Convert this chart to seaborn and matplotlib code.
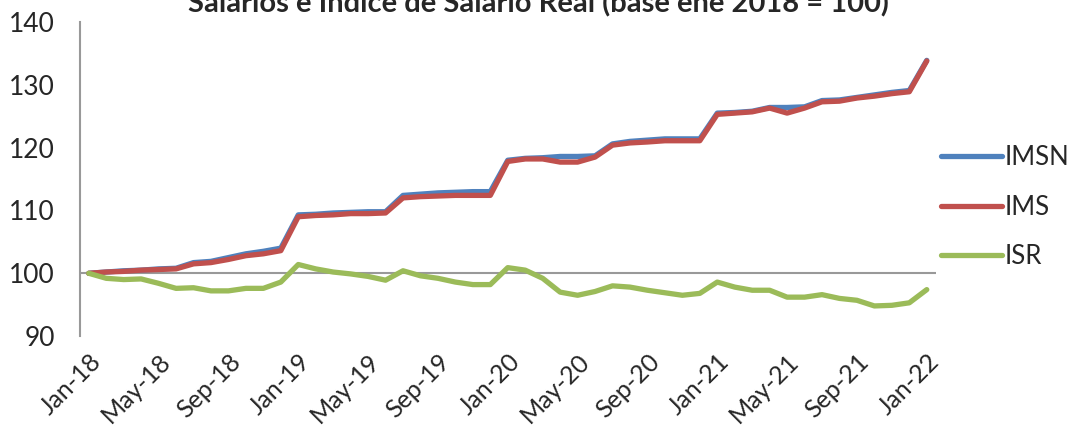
import matplotlib
matplotlib.use("Agg")
import matplotlib.pyplot as plt
import seaborn as sns
import pandas as pd
import numpy as np

months = pd.date_range("2018-01-01", "2022-01-01", freq="MS")
month_labels = [d.strftime("%b-%y") for d in months]

imsn = [100.0, 100.2, 100.4, 100.5, 100.7, 100.8, 101.7, 101.9, 102.5, 103.1, 103.5, 104.0,
        109.3, 109.4, 109.6, 109.7, 109.8, 109.8, 112.4, 112.6, 112.8, 112.9, 113.0, 113.0,
        118.0, 118.3, 118.4, 118.6, 118.6, 118.7, 120.6, 121.0, 121.2, 121.4, 121.4, 121.4,
        125.5, 125.6, 125.8, 126.4, 126.4, 126.5, 127.5, 127.6, 128.0, 128.4, 128.8, 129.1,
        133.9]
ims = [100.0, 100.2, 100.3, 100.5, 100.6, 100.7, 101.5, 101.7, 102.2, 102.8, 103.1, 103.6,
       109.0, 109.2, 109.3, 109.5, 109.5, 109.6, 112.0, 112.2, 112.3, 112.4, 112.4, 112.4,
       117.8, 118.2, 118.2, 117.7, 117.7, 118.5, 120.4, 120.75, 120.9, 121.1, 121.1, 121.1,
       125.3, 125.5, 125.7, 126.3, 125.5, 126.3, 127.3, 127.4, 127.9, 128.2, 128.6, 128.9,
       133.8]
isr = [100.0, 99.2, 99.0, 99.1, 98.4, 97.6, 97.7, 97.2, 97.2, 97.6, 97.6, 98.6,
       101.4, 100.7, 100.2, 99.9, 99.5, 98.9, 100.4, 99.6, 99.2, 98.6, 98.2, 98.2,
       100.9, 100.5, 99.2, 97.0, 96.5, 97.1, 98.0, 97.8, 97.3, 96.9, 96.5, 96.8,
       98.6, 97.8, 97.3, 97.3, 96.2, 96.2, 96.6, 96.0, 95.7, 94.8, 94.9, 95.3,
       97.4]

series_names = ["IMSN", "IMS", "ISR"]
colors = ["#4F81BD", "#C0504D", "#9BBB59"]
yticks = [90, 100, 110, 120, 130, 140]
title = "Salarios e Índice de Salario Real (base ene 2018 = 100)"

idx = np.arange(len(months))
df = pd.concat([
    pd.DataFrame({"idx": idx, "valor": vals, "serie": name})
    for name, vals in zip(series_names, [imsn, ims, isr])
])

sns.set_style("white")
fam = ["Lato", "DejaVu Sans"]
plt.rcParams["font.family"] = fam

fig = plt.figure(figsize=(10.7, 4.32), dpi=100)
ax = fig.add_axes([0.0748, 0.222, 0.7995, 0.727])

ax.axhline(100, color="#999999", lw=1.5, zorder=1)
sns.lineplot(data=df, x="idx", y="valor", hue="serie", hue_order=series_names,
             palette=colors, linewidth=3.8, ax=ax, zorder=3, legend=True)

ax.set_xlim(-0.5, len(months) - 0.5)
ax.set_ylim(90, 140)
ax.set_yticks(yticks)
ax.set_yticklabels([str(v) for v in yticks], fontsize=19)
tick_pos = idx[::4]
ax.set_xticks(tick_pos)
ax.set_xticklabels([month_labels[i] for i in tick_pos], rotation=45, ha="right",
                   rotation_mode="anchor", fontsize=18)
ax.tick_params(axis="y", length=0, pad=18)
ax.tick_params(axis="x", length=0, pad=10)
ax.set_xlabel("")
ax.set_ylabel("")
for s in ["top", "right", "bottom"]:
    ax.spines[s].set_visible(False)
ax.spines["left"].set_color("#999999")
ax.spines["left"].set_linewidth(1.5)

leg = ax.legend(loc="center left", bbox_to_anchor=(1.0, 0.41), frameon=False,
                fontsize=18.5, handlelength=2.4, handletextpad=0.1, labelspacing=0.95,
                borderaxespad=0.1, borderpad=0.1)
for line in leg.get_lines():
    line.set_linewidth(3.8)

fig.text(0.503, 1 - 11 / 432, title, ha="center", va="baseline",
         fontsize=21, fontweight="bold")

fig.savefig("out.png", dpi=100)
